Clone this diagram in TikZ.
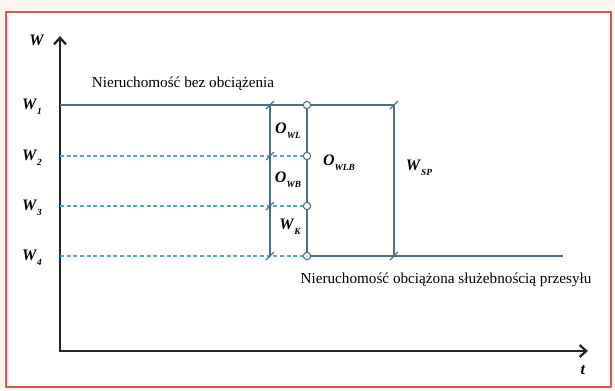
\documentclass[tikz,border=0pt]{standalone}
\usepackage{fontspec}
\setmainfont{Liberation Serif}
\usetikzlibrary{arrows.meta,calc}
\definecolor{frm}{HTML}{DC5A48}
\definecolor{bg}{HTML}{FCF6EF}
\definecolor{ln}{HTML}{4A6F80}
\definecolor{dsh}{HTML}{4FA6D6}
\newcommand{\wlab}[2]{\textbf{\textit{#1}}\raisebox{-0.7ex}{\fontsize{7}{8}\selectfont\bfseries\itshape #2}}
\tikzset{
  axis/.style={line width=1.7pt,draw=black!85,{Straight Barb[length=5pt,width=9pt]}-{Straight Barb[length=5pt,width=9pt]}},
  lvl/.style={draw=ln,line width=0.9pt},
  dlvl/.style={draw=dsh,line width=0.9pt,dash pattern=on 3pt off 2pt},
  dot/.style={circle,draw=ln,fill=white,line width=0.8pt,inner sep=0pt,minimum size=5.5pt},
  tk/.style={draw=ln,line width=0.9pt},
  lab/.style={font=\fontsize{12}{14}\selectfont,inner sep=1pt},
  txt/.style={font=\fontsize{11.4}{13}\selectfont,inner sep=1pt},
}
\begin{document}
\begin{tikzpicture}[x=0.75pt,y=-0.75pt]
\fill[bg] (0,0) rectangle (615,390);
\draw[frm,line width=1.5pt,fill=white] (6,12) rectangle (611,387);
\useasboundingbox (0,0) rectangle (615,390);
\coordinate (o) at (60,351);
\coordinate (ytop) at (60,36);
\coordinate (xend) at (588,351);
\draw[axis] (ytop) -- (o) -- (xend);
\node[lab] (wax) at (37,40) {\textbf{\textit{W}}};
\node[lab] (tax) at (583,370) {\textbf{\textit{t}}};
\foreach \i/\y in {1/105,2/156,3/206,4/256}{
  \coordinate (a\i) at (60,\y);
  \coordinate (b\i) at (270,\y);
  \node[dot] (c\i) at (307,\y) {};
  \node[lab] (wl\i) at (32,\y+2) {\wlab{W}{\i}};
}
\coordinate (d1) at (394,105);
\coordinate (d4) at (394,256);
\coordinate (e4) at (563,256);
\draw[lvl] (a1) -- (b1) -- (c1) -- (d1);
\foreach \i in {2,3,4} \draw[dlvl] (a\i) -- (c\i);
\draw[lvl] (c4) -- (d4) -- (e4);
\draw[lvl] (b1) -- (b4);
\draw[lvl] (c1) -- (c2) -- (c3) -- (c4);
\draw[lvl] (d1) -- (d4);
\foreach \p in {b1,b2,b3,b4,d1,d4}
  \draw[tk] ([shift={(-4,4)}]\p) -- ([shift={(4,-4)}]\p);
\node[lab] (owl) at (288,131) {\wlab{O}{WL}};
\node[lab] (owb) at (288,180) {\wlab{O}{WB}};
\node[lab] (wk) at (290,227) {\wlab{W}{K}};
\node[lab] (owlb) at (339,163) {\wlab{O}{WLB}};
\node[lab] (wsp) at (419,168) {\wlab{W}{SP}};
\node[txt] (bez) at (183,84) {Nieruchomość bez obciążenia};
\node[txt] (obc) at (446,280) {Nieruchomość obciążona służebnością przesyłu};
\end{tikzpicture}
\end{document}
